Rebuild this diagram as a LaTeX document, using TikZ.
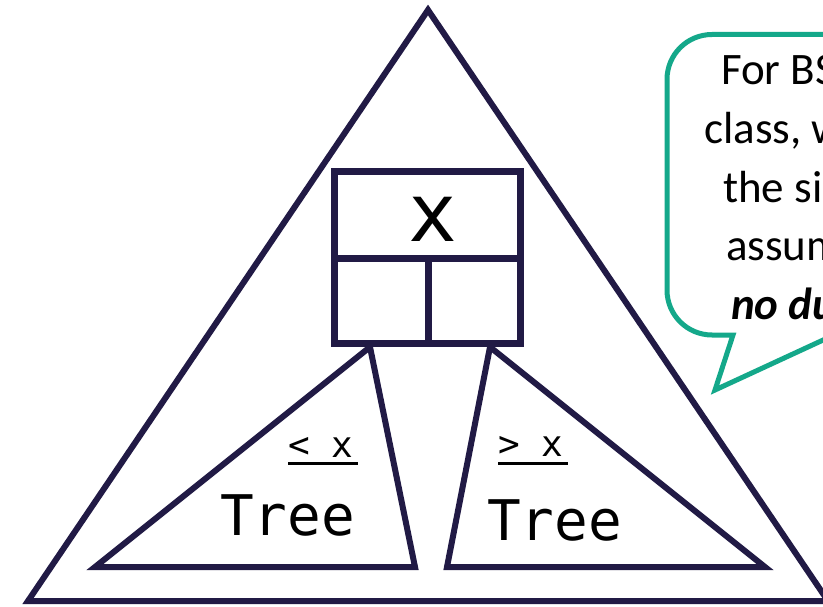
\documentclass[tikz,border=0pt]{standalone}
\usepackage{fontspec}
\newfontfamily\calfont{Carlito}
\newfontfamily\monofont{DejaVu Sans Mono}
\definecolor{navy}{RGB}{33,26,69}
\definecolor{teal}{RGB}{20,168,138}
\tikzset{
  edge/.style={draw=navy, line width=6pt, line join=miter},
  boxline/.style={draw=navy, line width=7pt},
  callout/.style={draw=teal, line width=5pt, fill=white, line join=miter},
  calltext/.style={anchor=base west, inner sep=0pt, font=\calfont\fontsize{45}{50}\selectfont},
  monolabel/.style={anchor=base west, inner sep=0pt, font=\monofont\fontsize{56}{60}\selectfont},
  rangelabel/.style={anchor=base west, inner sep=0pt, font=\monofont\fontsize{36}{40}\selectfont},
}
\begin{document}
\begin{tikzpicture}[x=1pt, y=-1pt]
\useasboundingbox (0,0) rectangle (823,607);
\fill[white] (0,0) rectangle (823,607);
% big triangle
\coordinate (A) at (428,10);
\coordinate (B) at (28,601);
\coordinate (C) at (828,601);
\draw[edge] (A) -- (B) -- (C) -- cycle;
% root node box
\coordinate (r1) at (334,171.5);
\coordinate (r2) at (520.5,343.5);
\coordinate (rm1) at (334,258.5);
\coordinate (rm2) at (520.5,258.5);
\coordinate (rv1) at (428.5,258.5);
\coordinate (rv2) at (428.5,343.5);
\draw[boxline] (r1) rectangle (r2);
\draw[boxline] (rm1) -- (rm2);
\draw[boxline] (rv1) -- (rv2);
\node[anchor=base, inner sep=0pt, font=\monofont\fontsize{81}{85}\selectfont] (key) at (433,242) {x};
% left subtree
\coordinate (L1) at (370,347);
\coordinate (L2) at (95,567);
\coordinate (L3) at (415,567);
\draw[edge] (L1) -- (L2) -- (L3) -- cycle;
% right subtree
\coordinate (R1) at (490,347);
\coordinate (R2) at (447,567);
\coordinate (R3) at (765,567);
\draw[edge] (R1) -- (R2) -- (R3) -- cycle;
% labels
\node[rangelabel] (ll) at (288,457) {<\ x};
\draw[line width=3pt] (288,463.5) -- (358,463.5);
\node[rangelabel] (rl) at (498,456) {>\ x};
\draw[line width=3pt] (498,463) -- (568,463);
\node[monolabel] (lt) at (220,535) {Tree};
\node[monolabel] (rt) at (487,540) {Tree};
% callout
\draw[callout] (733,335) -- (712,335) .. controls (687.1,335) and (667,314.9) .. (667,290)
  -- (667,79.5) .. controls (667,54.6) and (687.1,34.5) .. (712,34.5)
  -- (960,34.5) -- (960,335) -- (834,335) -- (715,390) -- cycle;
\node[calltext] (c1) at (721,85) {For BSTs in this};
\node[calltext] (c2) at (704,143.7) {class, we will make};
\node[calltext] (c3) at (723,202.4) {the simplifying};
\node[calltext] (c4) at (726,261) {assumption of};
\node[calltext] (c5) at (731,319.8) {\bfseries\itshape no duplicates};
\end{tikzpicture}
\end{document}
